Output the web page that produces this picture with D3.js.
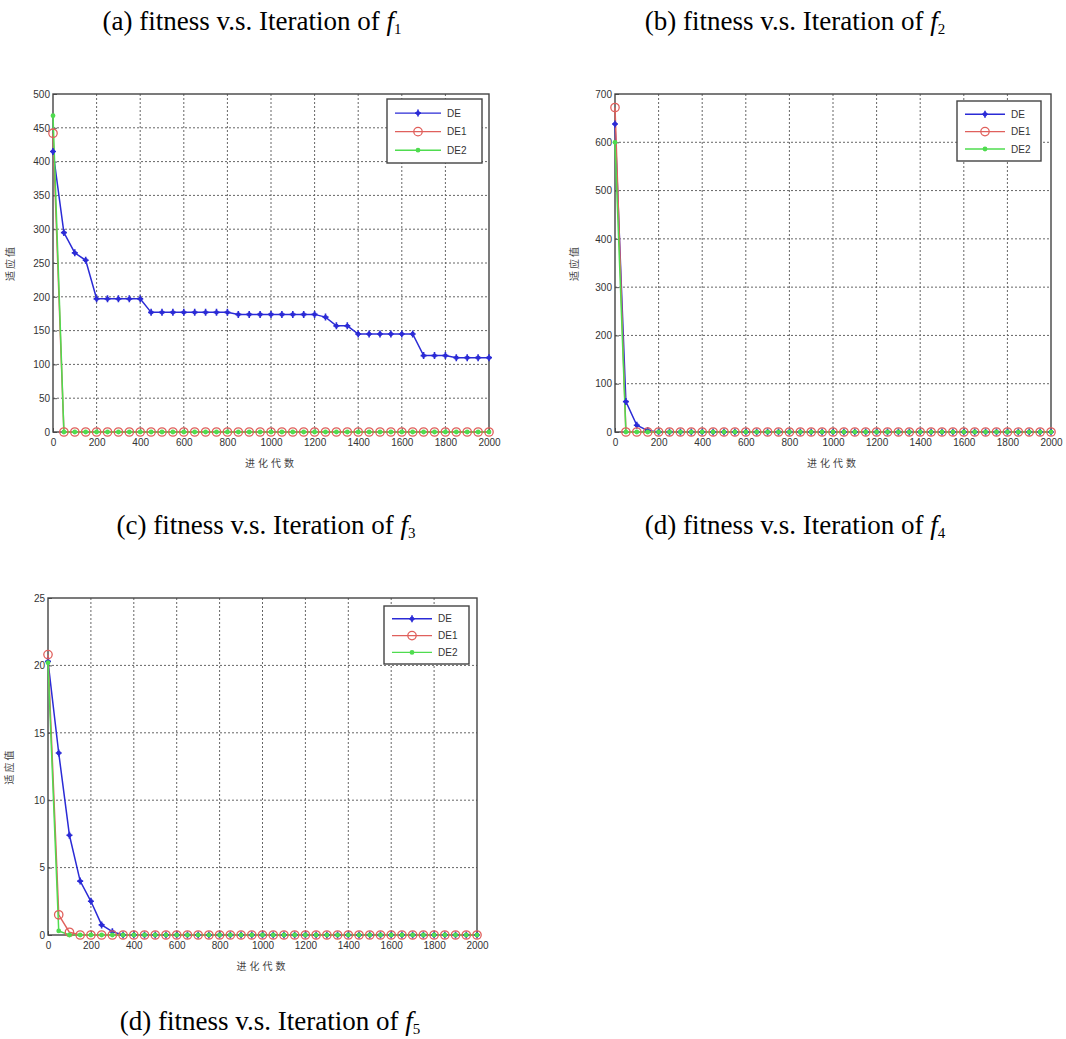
<!DOCTYPE html>
<html>
<head>
<meta charset="utf-8">
<script src="https://cdn.jsdelivr.net/npm/d3@7"></script>
<style>
  body { margin: 0; background: #fff; }
  .tick text { font-family: Arial, "Liberation Sans", sans-serif; font-size: 10px; fill: #333; }
  .caption { font-family: "Times New Roman", "Liberation Serif", serif; font-size: 27px; fill: #000; }
</style>
</head>
<body>
<div id="fig"></div>
<script>
// iterations where the curves were sampled
const iterations = [0,50,100,150,200,250,300,350,400,450,500,550,600,650,700,750,800,850,900,950,1000,
  1050,1100,1150,1200,1250,1300,1350,1400,1450,1500,1550,1600,1650,1700,1750,1800,1850,1900,1950,2000];

const seriesNames = ["DE", "DE1", "DE2"];
const COLORS = ["#2b2bd6", "#e0605c", "#4fdc4f"];

// f1
const f1_DE  = [415,295,265,254,197,197,197,197,197,177,177,177,177,177,177,177,177,174,174,174,174,
  174,174,174,174,170,157,157,145,145,145,145,145,145,113,113,113,110,110,110,110];
const f1_DE1 = [442,0,0,0,0,0,0,0,0,0,0,0,0,0,0,0,0,0,0,0,0,0,0,0,0,0,0,0,0,0,0,0,0,0,0,0,0,0,0,0,0];
const f1_DE2 = [468,0,0,0,0,0,0,0,0,0,0,0,0,0,0,0,0,0,0,0,0,0,0,0,0,0,0,0,0,0,0,0,0,0,0,0,0,0,0,0,0];

// f2
const f2_DE  = [638,63,14,3,0,0,0,0,0,0,0,0,0,0,0,0,0,0,0,0,0,0,0,0,0,0,0,0,0,0,0,0,0,0,0,0,0,0,0,0,0];
const f2_DE1 = [672,0,0,0,0,0,0,0,0,0,0,0,0,0,0,0,0,0,0,0,0,0,0,0,0,0,0,0,0,0,0,0,0,0,0,0,0,0,0,0,0];
const f2_DE2 = [600,0,0,0,0,0,0,0,0,0,0,0,0,0,0,0,0,0,0,0,0,0,0,0,0,0,0,0,0,0,0,0,0,0,0,0,0,0,0,0,0];

// f3
const f3_DE  = [20.3,13.5,7.4,4.0,2.5,0.75,0.25,0,0,0,0,0,0,0,0,0,0,0,0,0,0,0,0,0,0,0,0,0,0,0,0,0,0,0,0,0,0,0,0,0,0];
const f3_DE1 = [20.8,1.5,0.2,0,0,0,0,0,0,0,0,0,0,0,0,0,0,0,0,0,0,0,0,0,0,0,0,0,0,0,0,0,0,0,0,0,0,0,0,0,0];
const f3_DE2 = [20.2,0.3,0,0,0,0,0,0,0,0,0,0,0,0,0,0,0,0,0,0,0,0,0,0,0,0,0,0,0,0,0,0,0,0,0,0,0,0,0,0,0];

// tick labels
const xTicks = [0,200,400,600,800,1000,1200,1400,1600,1800,2000];
const yTicks_f1 = [0,50,100,150,200,250,300,350,400,450,500];
const yTicks_f2 = [0,100,200,300,400,500,600,700];
const yTicks_f3 = [0,5,10,15,20,25];

const xLabel = "进化代数";
const yLabel = "适应值";

// captions (text before the italic f, then subscript)
const captions = [
  {text: "(a) fitness v.s. Iteration of ", sub: "1", cx: 252, y: 30},
  {text: "(b) fitness v.s. Iteration of ", sub: "2", cx: 795, y: 30},
  {text: "(c) fitness v.s. Iteration of ", sub: "3", cx: 266, y: 534},
  {text: "(d) fitness v.s. Iteration of ", sub: "4", cx: 795, y: 534},
  {text: "(d) fitness v.s. Iteration of ", sub: "5", cx: 270, y: 1030}
];

const svg = d3.select("#fig").append("svg")
  .attr("width", 1066).attr("height", 1039);

// captions
captions.forEach(function(c) {
  const t = svg.append("text").attr("class", "caption")
    .attr("x", c.cx).attr("y", c.y).attr("text-anchor", "middle");
  t.append("tspan").text(c.text);
  t.append("tspan").attr("font-style", "italic").text("f");
  t.append("tspan").attr("font-size", "15px").attr("dy", 4).text(c.sub);
});

/**
 * draws the marker of one series at (x, y)
 */
function drawMarker(g, k, x, y) {
  if (k === 0) {
    g.append("path")
      .attr("d", `M${x-3},${y}H${x+3}M${x},${y-3.5}V${y+3.5}`)
      .attr("stroke", COLORS[0]).attr("stroke-width", 1.6);
    g.append("circle").attr("cx", x).attr("cy", y).attr("r", 2.2).attr("fill", COLORS[0]);
  } else if (k === 1) {
    g.append("circle").attr("cx", x).attr("cy", y).attr("r", 4.2)
      .attr("fill", "none").attr("stroke", COLORS[1]).attr("stroke-width", 1.3);
  } else {
    g.append("circle").attr("cx", x).attr("cy", y).attr("r", 2.4).attr("fill", COLORS[2]);
  }
}

/**
 * draws one panel of the figure
 */
function drawPanel(p) {
  const x = d3.scaleLinear().domain([0, 2000]).range([p.x0, p.x1]);
  const y = d3.scaleLinear().domain([0, p.yMax]).range([p.y1, p.y0]);
  const g = svg.append("g");

  // grid
  g.selectAll(".vgrid").data(xTicks.slice(1, -1)).enter().append("line")
    .attr("x1", d => x(d)).attr("x2", d => x(d))
    .attr("y1", p.y0).attr("y2", p.y1)
    .attr("stroke", "#666").attr("stroke-width", 1).attr("stroke-dasharray", "2,2");
  g.selectAll(".hgrid").data(p.yTicks.slice(1, -1)).enter().append("line")
    .attr("x1", p.x0).attr("x2", p.x1)
    .attr("y1", d => y(d)).attr("y2", d => y(d))
    .attr("stroke", "#666").attr("stroke-width", 1).attr("stroke-dasharray", "2,2");

  // axes
  const ax = g.append("g").attr("transform", `translate(0,${p.y1})`)
    .call(d3.axisBottom(x).tickValues(xTicks).tickFormat(d3.format("d")).tickSize(-4).tickPadding(7));
  ax.select(".domain").remove();
  const ay = g.append("g").attr("transform", `translate(${p.x0},0)`)
    .call(d3.axisLeft(y).tickValues(p.yTicks).tickFormat(d3.format("d")).tickSize(-4).tickPadding(3));
  ay.select(".domain").remove();
  g.selectAll(".tick line").attr("stroke", "#555");

  // box
  g.append("rect").attr("x", p.x0).attr("y", p.y0)
    .attr("width", p.x1 - p.x0).attr("height", p.y1 - p.y0)
    .attr("fill", "none").attr("stroke", "#444").attr("stroke-width", 1.4);

  // axis labels
  g.append("text").attr("x", (p.x0 + p.x1) / 2).attr("y", p.y1 + 35)
    .attr("text-anchor", "middle").attr("font-family", "Noto Sans CJK SC")
    .attr("font-size", "10px").attr("letter-spacing", "3px").attr("fill", "#444")
    .text(xLabel);
  g.append("text")
    .attr("transform", `translate(${p.ylabX},${(p.y0 + p.y1) / 2}) rotate(-90)`)
    .attr("text-anchor", "middle").attr("font-family", "Noto Sans CJK SC")
    .attr("font-size", "10px").attr("letter-spacing", "2px").attr("fill", "#444")
    .text(yLabel);

  // lines + markers
  const line = d3.line().x((d, i) => x(iterations[i])).y(d => y(d));
  p.series.forEach(function(s, k) {
    g.append("path").datum(s).attr("d", line)
      .attr("fill", "none").attr("stroke", COLORS[k]).attr("stroke-width", 1.5);
  });
  p.series.forEach(function(s, k) {
    const mg = g.append("g");
    s.forEach(function(v, i) { drawMarker(mg, k, x(iterations[i]), y(v)); });
  });

  // legend
  const L = p.legend;
  const lg = g.append("g");
  lg.append("rect").attr("x", L.x).attr("y", L.y).attr("width", L.w).attr("height", L.h)
    .attr("fill", "#fff").attr("stroke", "#444").attr("stroke-width", 1.4);
  seriesNames.forEach(function(name, k) {
    const ly = L.y + L.h * (0.22 + 0.29 * k);
    lg.append("line").attr("x1", L.x + 8).attr("x2", L.x + L.lineW + 8)
      .attr("y1", ly).attr("y2", ly).attr("stroke", COLORS[k]).attr("stroke-width", 1.4);
    drawMarker(lg, k, L.x + 8 + L.lineW / 2, ly);
    lg.append("text").attr("x", L.x + L.lineW + 14).attr("y", ly + 3.5)
      .attr("font-family", "Arial, Liberation Sans, sans-serif").attr("font-size", "10px")
      .attr("fill", "#333").text(name);
  });
}

drawPanel({x0: 53, x1: 489, y0: 94, y1: 432, yMax: 500, yTicks: yTicks_f1, ylabX: 14,
  series: [f1_DE, f1_DE1, f1_DE2], legend: {x: 387, y: 99, w: 95, h: 64, lineW: 46}});
drawPanel({x0: 615, x1: 1051, y0: 94, y1: 432, yMax: 700, yTicks: yTicks_f2, ylabX: 578,
  series: [f2_DE, f2_DE1, f2_DE2], legend: {x: 957, y: 101, w: 84, h: 60, lineW: 40}});
drawPanel({x0: 48, x1: 477, y0: 598, y1: 935, yMax: 25, yTicks: yTicks_f3, ylabX: 13,
  series: [f3_DE, f3_DE1, f3_DE2], legend: {x: 384, y: 606, w: 85, h: 58, lineW: 40}});
</script>
</body>
</html>
